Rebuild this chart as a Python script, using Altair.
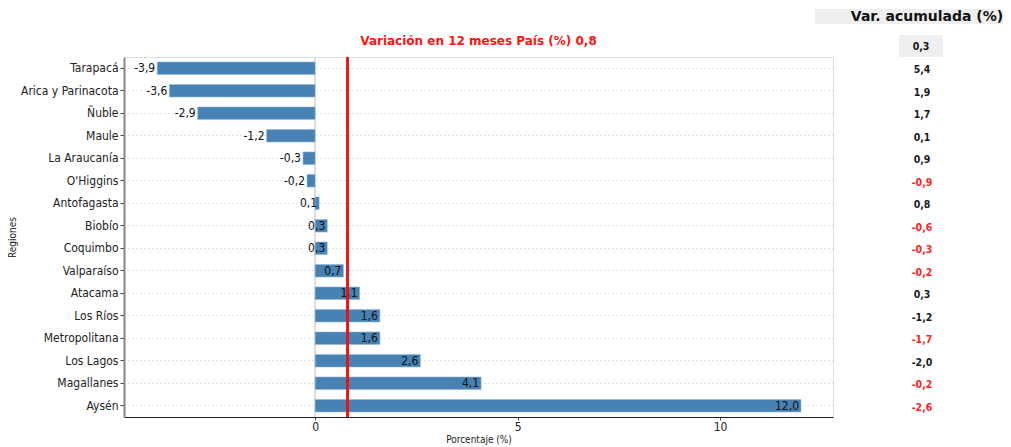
import altair as alt
import pandas as pd

regiones = ["Tarapacá", "Arica y Parinacota", "Ñuble", "Maule", "La Araucanía",
            "O'Higgins", "Antofagasta", "Biobío", "Coquimbo", "Valparaíso",
            "Atacama", "Los Ríos", "Metropolitana", "Los Lagos", "Magallanes", "Aysén"]
var_12m = [-3.9, -3.6, -2.9, -1.2, -0.3, -0.2, 0.1, 0.3, 0.3, 0.7, 1.1, 1.6, 1.6, 2.6, 4.1, 12.0]
var_acum = [5.4, 1.9, 1.7, 0.1, 0.9, -0.9, 0.8, -0.6, -0.3, -0.2, 0.3, -1.2, -1.7, -2.0, -0.2, -2.6]
acum_destacado = ["no", "no", "no", "no", "no", "si", "no", "si", "si", "si",
                  "no", "no", "si", "no", "si", "si"]
pais_12m = 0.8
pais_acum = 0.3
titulo = "Variación en 12 meses País (%) 0,8"
encabezado_tabla = "Var. acumulada (%)"
x_ticks = [0, 5, 10]

def fmt(v):
    return f"{v:.1f}".replace(".", ",")

df = pd.DataFrame({
    "region": regiones,
    "var": var_12m,
    "etiqueta": [fmt(v) for v in var_12m],
    "acum": [fmt(v) for v in var_acum],
    "destacado": acum_destacado,
})

FONT = "DejaVu Sans Condensed, DejaVu Sans"
BOLDFONT = "DejaVu Sans"
W, H = 709, 360

y_enc = alt.Y("region:N", sort=regiones, title="Regiones",
              scale=alt.Scale(paddingInner=0.44, paddingOuter=0.22),
              axis=alt.Axis(labelFontSize=12, labelFont=FONT, labelColor="#222",
                            titleFontSize=10, titleFont=FONT, titleFontWeight="normal",
                            titleColor="#222", titlePadding=3,
                            domainColor="#888", domainWidth=2, tickColor="#444",
                            tickSize=4, labelPadding=2,
                            grid=True, gridDash=[1, 3], gridColor="#c4c4c4", gridWidth=1))
x_scale = alt.Scale(domain=[-4.72, 12.79], nice=False, zero=False)

base = alt.Chart(df)

zero_rule = base.mark_rule(color="#dddddd", strokeWidth=1).encode(
    x=alt.datum(0, scale=x_scale)
)

bars = base.mark_bar(color="#4682b4", stroke="#9dbbd6", strokeWidth=0.6).encode(
    x=alt.X("var:Q", scale=x_scale, title="Porcentaje (%)",
            axis=alt.Axis(values=x_ticks, grid=False, labelFontSize=12, labelFont=FONT,
                          labelColor="#222", titleFontSize=10, titleFont=FONT,
                          titleFontWeight="normal", titleColor="#222", titlePadding=2,
                          domainColor="#222", domainWidth=1, tickColor="#444", tickSize=3,
                          labelPadding=1)),
    x2=alt.datum(0),
    y=y_enc,
)

labels = base.mark_text(align="right", baseline="middle", dx=-2, fontSize=12,
                        font=FONT, color="#111").encode(
    x=alt.X("var:Q", scale=x_scale),
    y=alt.Y("region:N", sort=regiones),
    text="etiqueta:N",
)

pais_rule = base.mark_rule(color="#ee1111", strokeWidth=1.3).encode(
    x=alt.datum(pais_12m, scale=x_scale)
)

tabla = base.mark_text(align="center", baseline="middle", fontSize=10.5,
                       fontWeight="bold", font=FONT, dy=2).encode(
    x=alt.value(798),
    y=alt.Y("region:N", sort=regiones),
    text="acum:N",
    color=alt.Color("destacado:N", scale=alt.Scale(domain=["no", "si"],
                                                   range=["#1a1a1a", "#ff2222"]),
                    legend=None),
)

title_df = pd.DataFrame({"t": [titulo]})
title_txt = alt.Chart(title_df).mark_text(align="center", baseline="middle",
                                          fontSize=12, fontWeight="bold",
                                          font=BOLDFONT, color="#ff1111").encode(
    x=alt.value(W / 2), y=alt.value(-16), text="t:N"
)

header_df = pd.DataFrame({"t": [encabezado_tabla]})
header_bg = alt.Chart(header_df).mark_rect(color="#efefef").encode(
    x=alt.value(691), x2=alt.value(900), y=alt.value(-48), y2=alt.value(-33)
)
header_txt = alt.Chart(header_df).mark_text(align="center", baseline="middle",
                                            fontSize=14, fontWeight="bold",
                                            font=BOLDFONT, color="#111").encode(
    x=alt.value(803), y=alt.value(-40), text="t:N"
)

pais_df = pd.DataFrame({"t": [fmt(pais_acum)]})
pais_bg = alt.Chart(pais_df).mark_rect(color="#efefef").encode(
    x=alt.value(775), x2=alt.value(819), y=alt.value(-22), y2=alt.value(0)
)
pais_txt = alt.Chart(pais_df).mark_text(align="center", baseline="middle",
                                        fontSize=10.5, fontWeight="bold",
                                        font=FONT, color="#111").encode(
    x=alt.value(797), y=alt.value(-10), text="t:N"
)

chart = alt.layer(
    zero_rule, bars, labels, pais_rule, tabla, title_txt,
    header_bg, header_txt, pais_bg, pais_txt
).properties(
    width=W, height=H,
    autosize=alt.AutoSizeParams(type="none"),
    padding={"left": 116, "top": 49, "right": 170, "bottom": 30},
).configure_view(stroke=None).configure(background="white")

chart.save("out.html", embed_options={"renderer": "svg", "actions": False})
